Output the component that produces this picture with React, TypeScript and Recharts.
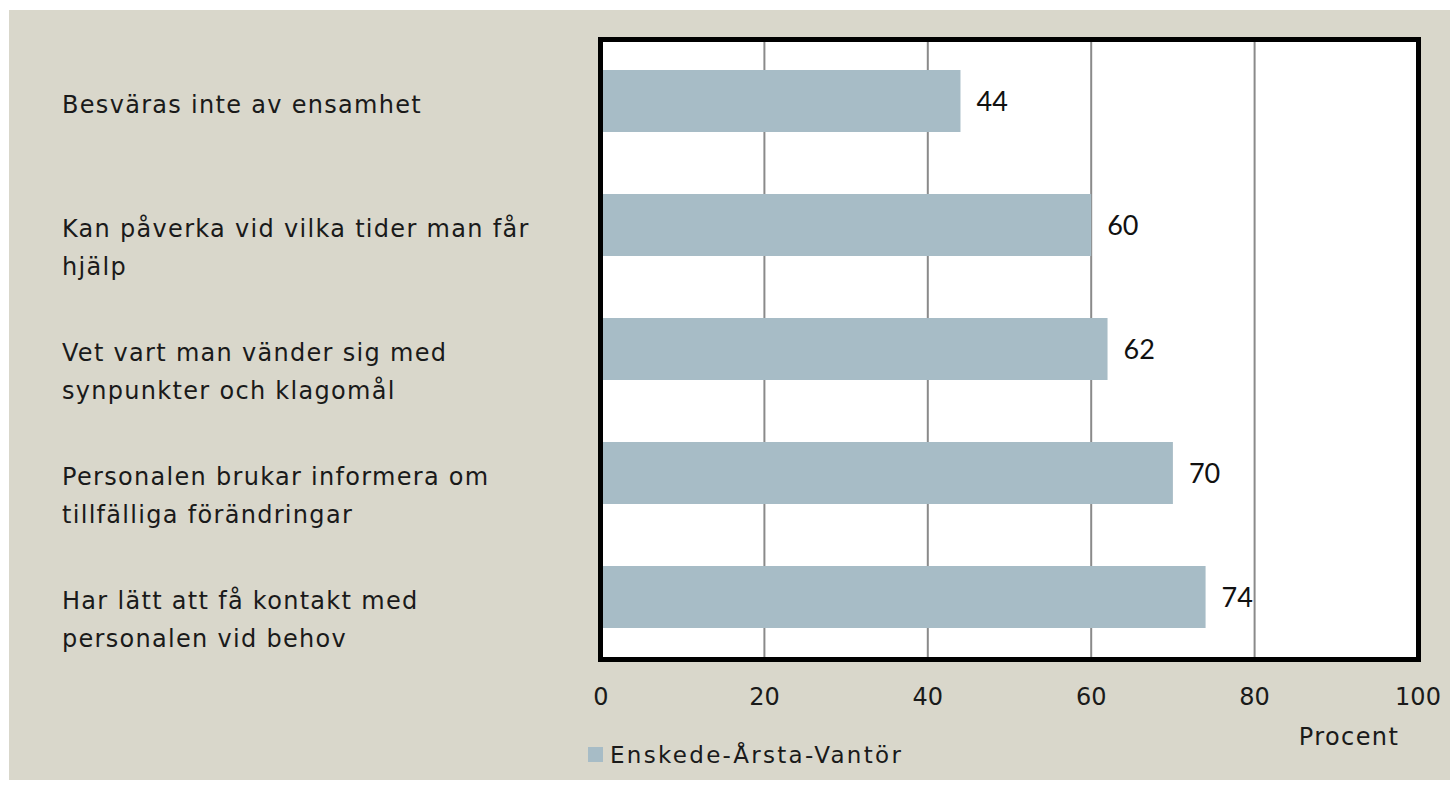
import { BarChart, Bar, XAxis, YAxis, CartesianGrid, LabelList, Legend } from 'recharts'

const categories = [
  'Besväras inte av ensamhet',
  'Kan påverka vid vilka tider man får hjälp',
  'Vet vart man vänder sig med synpunkter och klagomål',
  'Personalen brukar informera om tillfälliga förändringar',
  'Har lätt att få kontakt med personalen vid behov',
]
const labelLines = [
  ['Besväras inte av ensamhet'],
  ['Kan påverka vid vilka tider man får', 'hjälp'],
  ['Vet vart man vänder sig med', 'synpunkter och klagomål'],
  ['Personalen brukar informera om', 'tillfälliga förändringar'],
  ['Har lätt att få kontakt med', 'personalen vid behov'],
]
const values = [44, 60, 62, 70, 74]
const xTicks = [0, 20, 40, 60, 80, 100]
const seriesName = 'Enskede-Årsta-Vantör'

const data = categories.map((c, i) => ({ category: c, value: values[i] }))

const FONT = '"DejaVu Sans", sans-serif'
const BAR = '#A7BCC6'
const PANEL = '#D9D7CB'
const TEXT = '#1a1a1a'

// multi-line category labels, left aligned like the original
const CategoryTick = (props: any) => {
  const { y, payload } = props
  const idx = categories.indexOf(payload.value)
  const lines = labelLines[idx] || [payload.value]
  return (
    <text x={62} y={y} textAnchor="start" fontFamily={FONT} fontSize={24} letterSpacing={1.3} fill={TEXT}>
      {lines.map((l, i) => (
        <tspan key={i} x={62} y={y + 12 + i * 38}>{l}</tspan>
      ))}
    </text>
  )
}

const LegendContent = () => (
  <div style={{ display: 'flex', alignItems: 'center', fontFamily: FONT, fontSize: 23, letterSpacing: 2.3, color: TEXT, height: 25 }}>
    <span style={{ width: 15, height: 15, background: BAR, display: 'inline-block', marginRight: 7 }} />
    {seriesName}
  </div>
)

export default function App() {
  return (
    <div style={{ position: 'absolute', left: 0, top: 0, width: 1452, height: 790, background: '#fff' }}>
      <div style={{ position: 'absolute', left: 9, top: 10, width: 1441, height: 770, background: PANEL }} />
      <div style={{ position: 'absolute', left: 0, top: 0 }}>
        <BarChart
          width={1452}
          height={790}
          data={data}
          layout="vertical"
          barSize={62}
          margin={{ top: 39, right: 34, bottom: 66, left: 0 }}
        >
          <CartesianGrid horizontal={false} vertical stroke="#8a8a8a" strokeWidth={2} fill="#fff" fillOpacity={1} />
          <XAxis
            type="number"
            domain={[0, 100]}
            ticks={xTicks}
            axisLine={false}
            tickLine={false}
            tickMargin={23}
            height={40}
            tick={{ fontFamily: FONT, fontSize: 24, fill: TEXT }}
            label={(p: any) => {
              const vb = p.viewBox || {}
              return (
                <text x={vb.x + vb.width - 69} y={vb.y + 86} textAnchor="middle" fontFamily={FONT} fontSize={24} letterSpacing={1.4} fill={TEXT}>
                  Procent
                </text>
              )
            }}
          />
          <YAxis type="category" dataKey="category" width={601} axisLine={false} tickLine={false} tick={<CategoryTick />} interval={0} />
          <Bar dataKey="value" name={seriesName} fill={BAR} isAnimationActive={false}>
            <LabelList dataKey="value" position="right" offset={16} fontFamily="Lato, sans-serif" fontSize={27} fill="#111" />
          </Bar>
          <Legend
            content={<LegendContent />}
            wrapperStyle={{ position: 'absolute', left: 588, top: 742, width: 420, height: 25 }}
          />
        </BarChart>
      </div>
      {/* thick frame around the plot area */}
      <div style={{ position: 'absolute', left: 598, top: 37, width: 813, height: 615, border: '5px solid #000', pointerEvents: 'none' }} />
    </div>
  )
}
